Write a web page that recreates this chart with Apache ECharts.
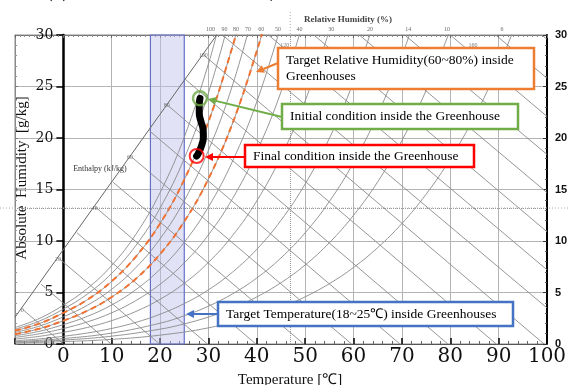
<!DOCTYPE html>
<html><head><meta charset="utf-8">
<script src="https://cdn.jsdelivr.net/npm/echarts@6/dist/echarts.min.js"></script>
<style>html,body{margin:0;padding:0;background:#fff}#c{width:569px;height:385px}</style>
</head><body><div id="c"></div>
<script>
// ---- relative humidity curves (temperature °C, absolute humidity g/kg) ----
const rh100T = [-10,-5,0,5,10,15,20,25,30,32];
const rh100W = [1.60,2.47,3.77,5.40,7.63,10.65,14.70,20.08,27.20,30.65];
const rh90T = [-10,-5,0,5,10,15,20,25,30,35];
const rh90W = [1.44,2.22,3.39,4.86,6.86,9.57,13.20,18.02,24.38,32.73];
const rh80T = [-10,-5,0,5,10,15,20,25,30,35,37];
const rh80W = [1.28,1.98,3.02,4.31,6.09,8.49,11.70,15.96,21.58,28.92,32.45];
const rh70T = [-10,-5,0,5,10,15,20,25,30,35,40];
const rh70W = [1.12,1.73,2.64,3.77,5.32,7.42,10.21,13.92,18.80,25.16,33.43];
const rh60T = [-10,-5,0,5,10,15,20,25,30,35,40,42];
const rh60W = [0.96,1.48,2.26,3.23,4.56,6.34,8.73,11.89,16.04,21.45,28.44,31.74];
const rh50T = [-10,-5,0,5,10,15,20,25,30,35,40,45];
const rh50W = [0.80,1.23,1.88,2.69,3.79,5.28,7.26,9.88,13.31,17.77,23.52,30.91];
const rh40T = [-10,-5,0,5,10,15,20,25,30,35,40,45,50];
const rh40W = [0.64,0.99,1.50,2.15,3.03,4.22,5.80,7.88,10.60,14.13,18.68,24.48,31.88];
const rh30T = [-10,-5,0,5,10,15,20,25,30,35,40,45,50,55];
const rh30W = [0.48,0.74,1.13,1.61,2.27,3.16,4.34,5.89,7.92,10.54,13.90,18.18,23.61,30.44];
const rh20T = [-10,-5,0,5,10,15,20,25,30,35,40,45,50,55,60,65];
const rh20W = [0.32,0.49,0.75,1.07,1.51,2.10,2.89,3.92,5.26,6.99,9.20,12.01,15.54,19.97,25.48,32.33];
const rh14T = [-10,0,10,20,25,30,35,40,45,50,55,60,65,70,72];
const rh14W = [0.22,0.53,1.06,2.02,2.74,3.67,4.87,6.41,8.36,10.80,13.84,17.62,22.28,28.01,30.63];
const rh10T = [-10,0,10,20,25,30,35,40,45,50,55,60,65,70,75,80];
const rh10W = [0.16,0.38,0.76,1.44,1.95,2.62,3.47,4.57,5.95,7.67,9.83,12.49,15.75,19.75,24.62,30.53];
const rh6T = [-10,0,10,20,30,40,45,50,55,60,65,70,75,80,85,90,95];
const rh6W = [0.10,0.23,0.45,0.86,1.57,2.73,3.55,4.58,5.86,7.43,9.36,11.70,14.54,17.97,22.07,26.97,32.78];

// ---- enthalpy lines (kJ/kg): start and end points ----
const hVals   = [0,10,20,30,40,50,60,70,80,90,100,110,120,130,140,150,160,170,180];
const hStartT = [-8.4,-4.6,-0.9,2.8,6.6,10.3,14.0,17.8,21.5,25.2,28.9,32.9,42.4,51.8,61.2,70.6,80.0,89.4,98.9];
const hStartW = [3.35,5.8,8.3,10.8,13.3,15.7,18.2,20.7,23.2,25.7,28.1,30,30,30,30,30,30,30,30];
const hEndT   = [0,9.9,19.9,29.8,39.8,49.7,59.6,69.6,79.5,89.5,99.4,100,100,100,100,100,100,100,100];
const hEndW   = [0,0,0,0,0,0,0,0,0,0,0,3.5,7.2,10.9,14.7,18.4,22.1,25.8,29.6];
const scaleT  = [-10,31.7];
const scaleW  = [2.6,30];

// ---- scale labels ----
const enthLabelText = ['0','20','40','60','80','100','120','140','160'];
const enthLabelT = [-8.5,-1.1,6.5,13.8,21.4,28.9,45.8,63.8,84.7];
const enthLabelW = [3.3,8.25,13.2,18.15,23.2,28.0,29.0,28.5,29.0];
const rhLabelText = ['100','90','80','70','60','50','40','30','20','14','10','6'];
const rhLabelT = [30.4,33.3,35.7,38.2,40.9,44.4,48.8,55.4,63.4,71.3,79.3,90.7];
const rhLabelW = 30.5;

// ---- greenhouse trajectory ----
const pathT = [28.25,28.1,28.1,28.45,28.9,28.95,28.6,27.9,27.56];
const pathW = [23.85,23.2,22.4,21.6,20.8,20.1,19.3,18.5,18.25];
const initialPt = [28.25,23.85];
const finalPt = [27.56,18.25];
const bandRange = [18,25];
const refLineT = 46.9;
const refLineW = 13.2;

const pairs = (T,W) => T.map((t,i)=>[t,W[i]]);
const gray = '#8a8a8a';
const series = [];
[[rh100T,rh100W],[rh90T,rh90W],[rh80T,rh80W],[rh70T,rh70W],[rh60T,rh60W],[rh50T,rh50W],
 [rh40T,rh40W],[rh30T,rh30W],[rh20T,rh20W],[rh14T,rh14W],[rh10T,rh10W],[rh6T,rh6W]].forEach(c=>{
  series.push({type:'line',data:pairs(c[0],c[1]),smooth:0.4,showSymbol:false,silent:true,z:2,
    lineStyle:{color:gray,width:0.9}});
});
hVals.forEach((h,i)=>{
  series.push({type:'line',data:[[hStartT[i],hStartW[i]],[hEndT[i],hEndW[i]]],showSymbol:false,silent:true,z:2,
    lineStyle:{color:gray,width:0.9}});
});
series.push({type:'line',data:pairs(scaleT,scaleW),showSymbol:false,silent:true,z:2,lineStyle:{color:'#666',width:1}});
series.push({type:'line',data:[],silent:true,z:1,
  markArea:{silent:true,itemStyle:{color:'rgba(190,190,238,0.45)',borderColor:'#6470c8',borderWidth:1.2},
    data:[[{xAxis:bandRange[0]},{xAxis:bandRange[1]}]]},
  markLine:{silent:true,symbol:'none',label:{show:false},lineStyle:{type:'dotted',color:'#999',width:1},
    data:[{xAxis:refLineT},{yAxis:refLineW}]}});
[[rh80T,rh80W],[rh60T,rh60W]].forEach(c=>{
  series.push({type:'line',data:pairs(c[0],c[1]),smooth:0.4,showSymbol:false,silent:true,z:4,
    lineStyle:{color:'#f07232',width:2,type:[6,4]}});
});
series.push({type:'line',data:pairs(pathT,pathW),smooth:0.5,showSymbol:false,silent:true,z:6,
  lineStyle:{color:'#000',width:7,cap:'round',join:'round'}});
series.push({type:'scatter',data:[initialPt],symbolSize:14,z:7,silent:true,
  itemStyle:{color:'rgba(0,0,0,0)',borderColor:'#70ad47',borderWidth:2.5}});
series.push({type:'scatter',data:[finalPt],symbolSize:14,z:7,silent:true,
  itemStyle:{color:'rgba(0,0,0,0)',borderColor:'#ff0000',borderWidth:2}});
series.push({type:'scatter',symbolSize:0,clip:false,silent:true,z:5,
  data:enthLabelText.map((s,i)=>({name:s,value:[enthLabelT[i],enthLabelW[i]]})),
  label:{show:true,position:'inside',formatter:'{b}',fontSize:6,fontFamily:'Liberation Serif',color:'#555'}});
series.push({type:'scatter',symbolSize:0,clip:false,silent:true,z:5,
  data:rhLabelText.map((s,i)=>({name:s,value:[rhLabelT[i],rhLabelW]})),
  label:{show:true,position:'inside',formatter:'{b}',fontSize:6,fontFamily:'Liberation Serif',color:'#444'}});

function arrow(x1,y1,x2,y2,color){
  const a=Math.atan2(y2-y1,x2-x1),L=8,w=4;
  const bx=x2-L*Math.cos(a),by=y2-L*Math.sin(a);
  const px=-Math.sin(a)*w,py=Math.cos(a)*w;
  return [{type:'line',z:20,shape:{x1:x1,y1:y1,x2:bx,y2:by},style:{stroke:color,lineWidth:2}},
          {type:'polygon',z:20,shape:{points:[[x2,y2],[bx+px,by+py],[bx-px,by-py]]},style:{fill:color}}];
}
function box(x,y,w,h,color,lines,lh){
  const els=[{type:'rect',z:19,shape:{x:x,y:y,width:w,height:h},style:{fill:'#fff',stroke:color,lineWidth:2.5}}];
  lines.forEach((t,i)=>els.push({type:'text',z:21,x:x+8,y:y+h/2+(i-(lines.length-1)/2)*lh,
    style:{text:t,font:'13.5px "Liberation Serif"',fill:'#000',textVerticalAlign:'middle',verticalAlign:'middle'}}));
  return els;
}
const serif='"Liberation Serif"';
const graphic=[].concat(
  box(278,48,256,41,'#ed7d31',['Target Relative Humidity(60~80%) inside','Greenhouses'],16),
  box(282,104,236,25,'#70ad47',['Initial condition inside the Greenhouse'],16),
  box(245,145,229,22,'#ff0000',['Final condition inside the Greenhouse'],16),
  box(218,302,295,24,'#4472c4',['Target Temperature(18~25℃) inside Greenhouses'],16),
  arrow(278,63,256,72,'#ed7d31'),
  arrow(282,117,208,99,'#70ad47'),
  arrow(245,157,205,157,'#ff0000'),
  arrow(218,314,186,314,'#4472c4'),
  [{type:'text',x:22,y:178,rotation:Math.PI/2,style:{text:'Absolute  Humidity  [g/kg]',font:'15px '+serif,fill:'#111',textAlign:'center',align:'center',textVerticalAlign:'middle',verticalAlign:'middle'}},
   {type:'text',x:290,y:380,style:{text:'Temperature [℃]',font:'15px '+serif,fill:'#111',textAlign:'center',align:'center',textVerticalAlign:'middle',verticalAlign:'middle'}},
   {type:'text',x:348,y:20,style:{text:'Relative Humidity (%)',font:'bold 9px '+serif,fill:'#444',textAlign:'center',align:'center',textVerticalAlign:'middle',verticalAlign:'middle'}},
   {type:'text',x:100,y:169,style:{text:'Enthalpy (kJ/kg)',font:'8px '+serif,fill:'#333',textAlign:'center',align:'center',textVerticalAlign:'middle',verticalAlign:'middle'}},
   {type:'text',x:47,y:-8.5,style:{text:'(a)   通風換気の風量：100 m³/h の場合',font:'17px "Noto Sans CJK JP"',fill:'#111',textVerticalAlign:'middle',verticalAlign:'middle'}}]
);

const gridLeft=15, gridRight=22, W=569;
const xMin=-10, xMax=100;
const zeroOffset = -(0-xMin)*(W-gridLeft-gridRight)/(xMax-xMin);

const chart = echarts.init(document.getElementById('c'));
chart.setOption({
  animation:false,
  grid:{left:gridLeft,right:gridRight,top:35,bottom:41,show:true,borderColor:'#8c8c8c',borderWidth:1,
        containLabel:false,outerBoundsMode:'none'},
  xAxis:[
    {type:'value',min:xMin,max:xMax,interval:10,position:'bottom',
     axisLine:{onZero:false,lineStyle:{color:'#555',width:1.2}},
     axisTick:{inside:true,length:6,lineStyle:{color:'#000',width:1.5}},
     minorTick:{show:true,splitNumber:5,length:3,lineStyle:{color:'#666'}},
     axisLabel:{formatter:v=>v<0?'':String(v),fontFamily:'DejaVu Serif',fontSize:20,color:'#111',margin:3},
     splitLine:{show:true,lineStyle:{color:'#b4b4b4',width:1}}},
    {type:'value',min:xMin,max:xMax,interval:10,position:'top',
     axisLine:{onZero:false,lineStyle:{color:'#777'}},
     axisTick:{inside:true,length:3,lineStyle:{color:'#666'}},
     minorTick:{show:true,splitNumber:10,length:2,lineStyle:{color:'#888'}},
     axisLabel:{show:false},splitLine:{show:false}}
  ],
  yAxis:[
    {type:'value',min:0,max:30,interval:5,position:'left',offset:zeroOffset,
     axisLine:{onZero:false,lineStyle:{color:'#000',width:2.5}},
     axisTick:{inside:false,length:7,lineStyle:{color:'#000',width:1.5}},
     axisLabel:{fontFamily:'DejaVu Serif',fontSize:14,color:'#111',margin:10},
     splitLine:{show:true,lineStyle:{color:'#b4b4b4',width:1}}},
    {type:'value',min:0,max:30,interval:5,position:'right',
     axisLine:{onZero:false,lineStyle:{color:'#000',width:2}},
     axisTick:{inside:true,length:4,lineStyle:{color:'#333'}},
     minorTick:{show:true,splitNumber:5,length:2,lineStyle:{color:'#555'}},
     axisLabel:{fontFamily:'Liberation Sans',fontWeight:'bold',fontSize:11,color:'#111',margin:8},
     splitLine:{show:false}},
    {type:'value',min:0,max:30,interval:5,position:'left',
     axisLine:{onZero:false,lineStyle:{color:'#888'}},
     axisTick:{inside:true,length:3,lineStyle:{color:'#777'}},
     minorTick:{show:true,splitNumber:5,length:2,lineStyle:{color:'#999'}},
     axisLabel:{show:false},splitLine:{show:false}}
  ],
  series:series,
  graphic:graphic
});
const pV = chart.convertToPixel({xAxisIndex:0,yAxisIndex:0},[refLineT,refLineW]);
chart.setOption({graphic:graphic.concat([
  {type:'line',z:1,shape:{x1:0,y1:pV[1],x2:569,y2:pV[1]},style:{stroke:'#aaa',lineWidth:1,lineDash:[1,2]}},
  {type:'line',z:1,shape:{x1:pV[0],y1:12,x2:pV[0],y2:35},style:{stroke:'#aaa',lineWidth:1,lineDash:[1,2]}}
])});
</script></body></html>
